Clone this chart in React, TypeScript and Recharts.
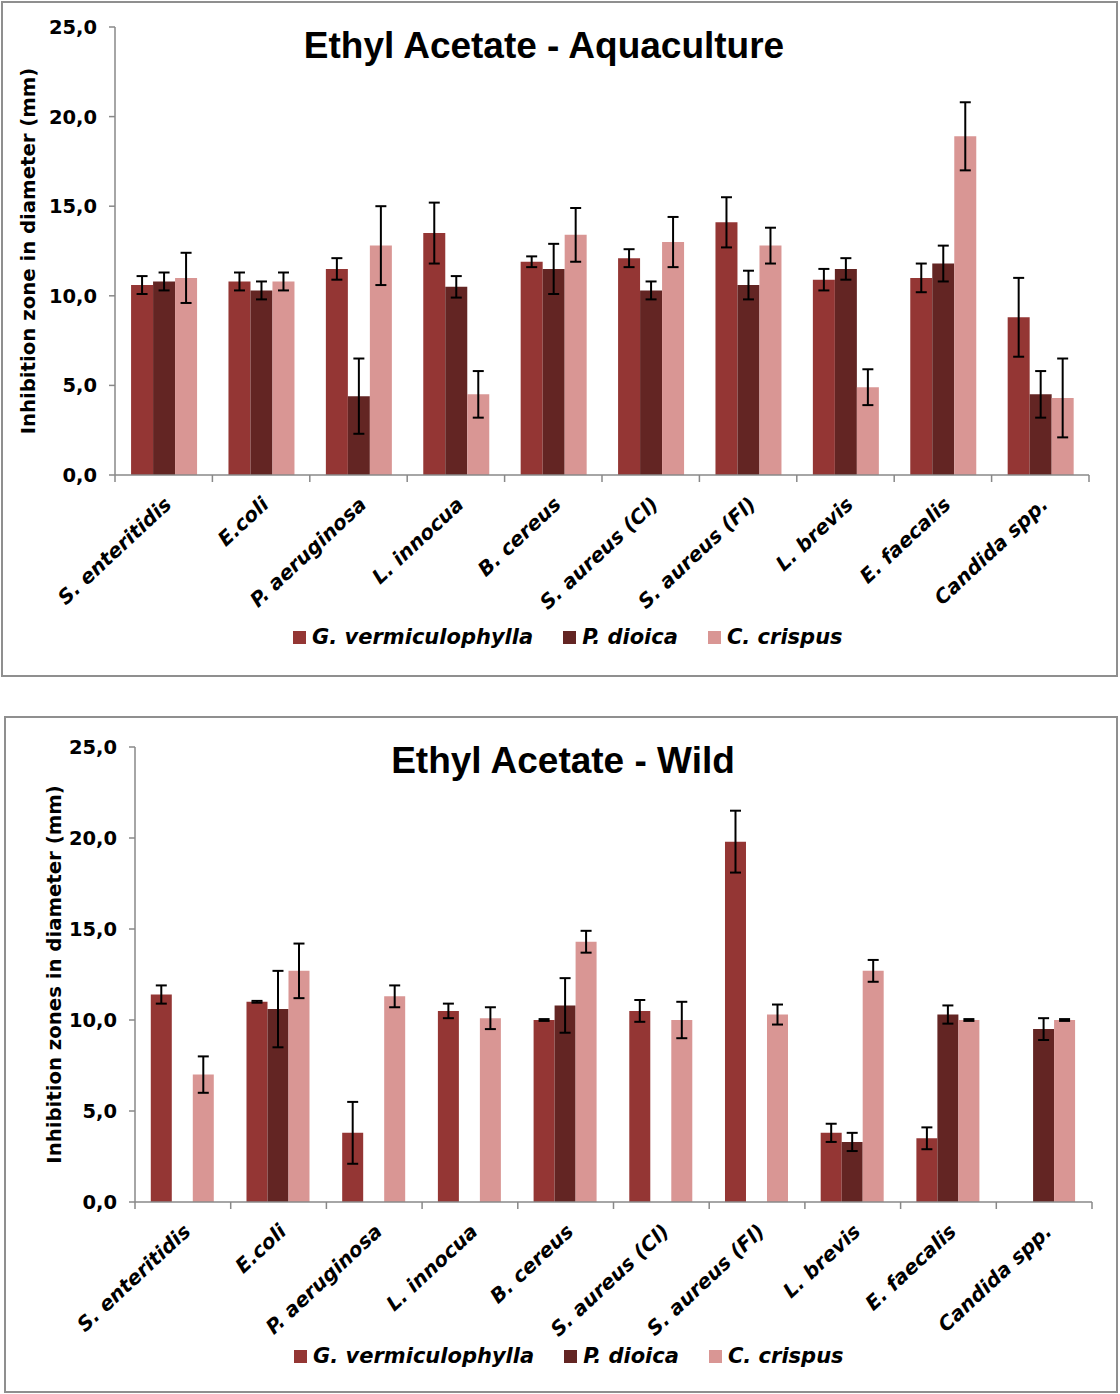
import React from 'react'
import { BarChart, Bar, XAxis, YAxis, ErrorBar, Legend } from 'recharts'

const categories = [
  'S. enteritidis',
  'E.coli',
  'P. aeruginosa',
  'L. innocua',
  'B. cereus',
  'S. aureus (Cl)',
  'S. aureus (Fl)',
  'L. brevis',
  'E. faecalis',
  'Candida spp.',
]
const seriesNames = ['G. vermiculophylla', 'P. dioica', 'C. crispus']
const seriesColors = ['#943634', '#632523', '#d99694']
const yTicks = [0, 5, 10, 15, 20, 25]

// Aquaculture
const aquaG = [10.6, 10.8, 11.5, 13.5, 11.9, 12.1, 14.1, 10.9, 11.0, 8.8]
const aquaGErr = [0.5, 0.5, 0.6, 1.7, 0.3, 0.5, 1.4, 0.6, 0.8, 2.2]
const aquaP = [10.8, 10.3, 4.4, 10.5, 11.5, 10.3, 10.6, 11.5, 11.8, 4.5]
const aquaPErr = [0.5, 0.5, 2.1, 0.6, 1.4, 0.5, 0.8, 0.6, 1.0, 1.3]
const aquaC = [11.0, 10.8, 12.8, 4.5, 13.4, 13.0, 12.8, 4.9, 18.9, 4.3]
const aquaCErr = [1.4, 0.5, 2.2, 1.3, 1.5, 1.4, 1.0, 1.0, 1.9, 2.2]

// Wild (null = no bar / no error bar)
const wildG = [11.4, 11.0, 3.8, 10.5, 10.0, 10.5, 19.8, 3.8, 3.5, 0]
const wildGErr = [0.5, 0.05, 1.7, 0.4, 0.05, 0.6, 1.7, 0.5, 0.6, null]
const wildP = [0, 10.6, 0, 0, 10.8, 0, 0, 3.3, 10.3, 9.5]
const wildPErr = [null, 2.1, null, null, 1.5, null, null, 0.5, 0.5, 0.6]
const wildC = [7.0, 12.7, 11.3, 10.1, 14.3, 10.0, 10.3, 12.7, 10.0, 10.0]
const wildCErr = [1.0, 1.5, 0.6, 0.6, 0.6, 1.0, 0.55, 0.6, 0.05, 0.05]

const buildRows = (
  g: number[],
  gErr: (number | null)[],
  p: number[],
  pErr: (number | null)[],
  c: number[],
  cErr: (number | null)[],
) =>
  categories.map((name, i) => ({
    name,
    g: g[i],
    gErr: gErr[i],
    p: p[i],
    pErr: pErr[i],
    c: c[i],
    cErr: cErr[i],
  }))

const aquaRows = buildRows(aquaG, aquaGErr, aquaP, aquaPErr, aquaC, aquaCErr)
const wildRows = buildRows(wildG, wildGErr, wildP, wildPErr, wildC, wildCErr)

const AXIS_GREY = '#888888'
const LABEL_FONT = '"DejaVu Sans", sans-serif'

const CategoryTick = (props: any) => {
  const { x, y, payload, index } = props
  const half = payload?.offset || 48
  return (
    <g>
      <line x1={x - half} y1={y} x2={x - half} y2={y + 7} stroke={AXIS_GREY} strokeWidth={1.5} />
      {index === categories.length - 1 && (
        <line x1={x + half} y1={y} x2={x + half} y2={y + 7} stroke={AXIS_GREY} strokeWidth={1.5} />
      )}
      <text
        x={x + 9}
        y={y + 31}
        transform={`rotate(-43, ${x + 9}, ${y + 31})`}
        textAnchor="end"
        fontFamily={LABEL_FONT}
        fontWeight="bold"
        fontStyle="italic"
        fontSize={20}
        fill="#000"
      >
        {payload.value}
      </text>
    </g>
  )
}

const renderLegend = () => (
  <div
    style={{
      display: 'flex',
      alignItems: 'center',
      fontFamily: LABEL_FONT,
      fontWeight: 'bold',
      fontStyle: 'italic',
      fontSize: 21,
      color: '#000',
      whiteSpace: 'nowrap',
    }}
  >
    {seriesNames.map((name, i) => (
      <div key={name} style={{ display: 'flex', alignItems: 'center', marginRight: 30 }}>
        <span
          style={{ display: 'inline-block', width: 13, height: 13, background: seriesColors[i], marginRight: 6 }}
        />
        <span>{name}</span>
      </div>
    ))}
  </div>
)

interface PanelProps {
  rows: ReturnType<typeof buildRows>
  yLabel: string
  yAxisWidth: number
  top: number
  right: number
  bottom: number
  labelDx: number
  legendTop: number
  legendLeft: number
}

const InhibitionChart = ({ rows, yLabel, yAxisWidth, top, right, bottom, labelDx, legendTop, legendLeft }: PanelProps) => (
  <BarChart
    width={1120}
    height={690}
    data={rows}
    margin={{ top, right, bottom, left: 0 }}
    barCategoryGap="16.5%"
    barGap={0}
  >
    <XAxis
      dataKey="name"
      interval={0}
      height={100}
      tickSize={0}
      tickMargin={0}
      tickLine={false}
      tick={<CategoryTick />}
      axisLine={{ stroke: AXIS_GREY, strokeWidth: 1.5 }}
    />
    <YAxis
      width={yAxisWidth}
      domain={[0, 25]}
      ticks={yTicks}
      interval={0}
      tickSize={6}
      tickMargin={12}
      tickFormatter={(v: number) => v.toFixed(1).replace('.', ',')}
      tick={{ fill: '#000', fontFamily: LABEL_FONT, fontWeight: 'bold', fontSize: 19.5 }}
      tickLine={{ stroke: AXIS_GREY, strokeWidth: 1.5 }}
      axisLine={{ stroke: AXIS_GREY, strokeWidth: 1.5 }}
      label={{
        value: yLabel,
        angle: -90,
        position: 'center',
        dx: labelDx,
        fill: '#000',
        fontFamily: LABEL_FONT,
        fontWeight: 'bold',
        fontSize: 19.7,
      }}
    />
    <Legend
      layout="horizontal"
      verticalAlign="middle"
      align="center"
      content={renderLegend}
      wrapperStyle={{ top: legendTop, left: legendLeft, width: 720 }}
    />
    <Bar dataKey="g" name={seriesNames[0]} fill={seriesColors[0]} isAnimationActive={false}>
      <ErrorBar dataKey="gErr" width={5.5} strokeWidth={2} stroke="#000" />
    </Bar>
    <Bar dataKey="p" name={seriesNames[1]} fill={seriesColors[1]} isAnimationActive={false}>
      <ErrorBar dataKey="pErr" width={5.5} strokeWidth={2} stroke="#000" />
    </Bar>
    <Bar dataKey="c" name={seriesNames[2]} fill={seriesColors[2]} isAnimationActive={false}>
      <ErrorBar dataKey="cErr" width={5.5} strokeWidth={2} stroke="#000" />
    </Bar>
  </BarChart>
)

const titleStyle: React.CSSProperties = {
  position: 'absolute',
  width: 1000,
  textAlign: 'center',
  fontFamily: '"Liberation Sans", Arial, sans-serif',
  fontWeight: 'bold',
  fontSize: 37,
  lineHeight: '37px',
  color: '#000',
}

const frameStyle: React.CSSProperties = {
  position: 'absolute',
  border: '2px solid #8f8f8f',
  boxSizing: 'border-box',
}

export default function App() {
  return (
    <div style={{ position: 'absolute', left: 0, top: 0, width: 1120, height: 1394, background: '#fff' }}>
      <div style={{ ...frameStyle, left: 1, top: 1, width: 1117, height: 676 }} />
      <div style={{ ...frameStyle, left: 4, top: 716, width: 1114, height: 677 }} />

      <div style={{ position: 'absolute', left: 0, top: 0 }}>
        <InhibitionChart
          rows={aquaRows}
          yLabel="Inhibition zone in diameter (mm)"
          yAxisWidth={115}
          top={27}
          right={31}
          bottom={115}
          labelDx={-29.5}
          legendTop={625}
          legendLeft={293}
        />
      </div>
      <div style={{ position: 'absolute', left: 0, top: 700 }}>
        <InhibitionChart
          rows={wildRows}
          yLabel="Inhibition zones in diameter (mm)"
          yAxisWidth={135}
          top={47}
          right={28}
          bottom={88}
          labelDx={-13.5}
          legendTop={644}
          legendLeft={294}
        />
      </div>

      <div style={{ ...titleStyle, left: 44, top: 27 }}>Ethyl Acetate - Aquaculture</div>
      <div style={{ ...titleStyle, left: 63, top: 742 }}>Ethyl Acetate - Wild</div>
    </div>
  )
}
